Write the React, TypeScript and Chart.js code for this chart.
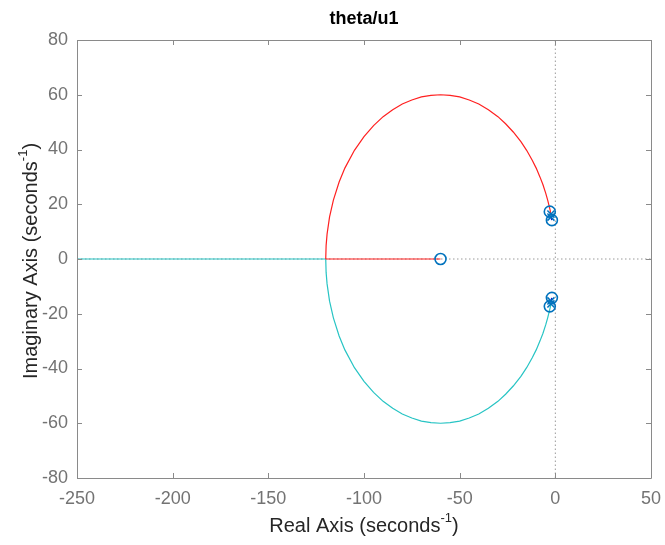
import React, { useEffect, useRef } from "react";
import { Chart, registerables } from "chart.js";

Chart.register(...registerables);

const titleText = "theta/u1";
const xLabelText = "Real Axis (seconds";
const yLabelText = "Imaginary Axis (seconds";
const xTicks = [-250, -200, -150, -100, -50, 0, 50];
const yTicks = [-80, -60, -40, -20, 0, 20, 40, 60, 80];

// upper (red) branch of the locus
const redArcX = [-2.3, -2.6, -3, -4, -5, -6.5, -8, -10, -12, -15, -18, -22, -26, -30, -35, -40, -45, -50, -55, -60, -65, -70, -75, -80, -85, -90, -95, -100, -105, -110, -113, -116, -118, -119.3, -119.8, -120];
const redArcY = [16.4, 17.5, 18.7, 21.5, 24.0, 27.2, 29.9, 33.2, 36.0, 39.7, 42.9, 46.4, 49.4, 52.0, 54.5, 56.6, 58.1, 59.2, 59.8, 60.0, 59.8, 59.2, 58.1, 56.6, 54.5, 52.0, 48.7, 44.7, 39.7, 33.2, 28.1, 21.5, 15.4, 9.1, 4.9, 0];
// real-axis red segment
const redRealX = [-120, -60];
const redRealY = [0, 0];
// lower (cyan) branch
const cyanArcX = [-2.3, -2.6, -3, -4, -5, -6.5, -8, -10, -12, -15, -18, -22, -26, -30, -35, -40, -45, -50, -55, -60, -65, -70, -75, -80, -85, -90, -95, -100, -105, -110, -113, -116, -118, -119.3, -119.8, -120];
const cyanArcY = [-16.4, -17.5, -18.7, -21.5, -24.0, -27.2, -29.9, -33.2, -36.0, -39.7, -42.9, -46.4, -49.4, -52.0, -54.5, -56.6, -58.1, -59.2, -59.8, -60.0, -59.8, -59.2, -58.1, -56.6, -54.5, -52.0, -48.7, -44.7, -39.7, -33.2, -28.1, -21.5, -15.4, -9.1, -4.9, 0];
const cyanRealX = [-120, -250];
const cyanRealY = [0, 0];
// short blue branches between close poles and zeros
const blueUpX = [-2.3, -1.8];
const blueUpY = [15.3, 14.2];
const blueDnX = [-2.3, -1.8];
const blueDnY = [-15.3, -14.2];

const zerosX = [-60, -2.9, -1.8, -2.9, -1.8];
const zerosY = [0, 17.3, 14.2, -17.3, -14.2];
const polesX = [-2.3, -2.3, -2.3, -2.3];
const polesY = [16.4, 15.3, -16.4, -15.3];

const pts = (xs: number[], ys: number[]) => xs.map((x, i) => ({ x, y: ys[i] }));

const CHART_LEFT = 77;
const CHART_RIGHT = 651;
const CHART_TOP = 40;
const CHART_BOTTOM = 478;
const W = 665;
const H = 545;

const framePlugin = {
  id: "frame",
  afterDatasetsDraw(chart: any) {
    const ctx = chart.ctx;
    const { left, right, top, bottom } = chart.chartArea;
    const xs = chart.scales.x;
    const ys = chart.scales.y;
    ctx.save();
    ctx.strokeStyle = "#8a8a8a";
    ctx.lineWidth = 1;
    ctx.beginPath();
    ctx.rect(Math.round(left) + 0.5, Math.round(top) + 0.5, Math.round(right - left), Math.round(bottom - top));
    ctx.stroke();
    const tl = 5;
    ctx.beginPath();
    xTicks.forEach((v) => {
      const px = Math.round(xs.getPixelForValue(v)) + 0.5;
      ctx.moveTo(px, top);
      ctx.lineTo(px, top + tl);
      ctx.moveTo(px, bottom);
      ctx.lineTo(px, bottom - tl);
    });
    yTicks.forEach((v) => {
      const py = Math.round(ys.getPixelForValue(v)) + 0.5;
      ctx.moveTo(left, py);
      ctx.lineTo(left + tl, py);
      ctx.moveTo(right, py);
      ctx.lineTo(right - tl, py);
    });
    ctx.stroke();
    ctx.restore();
  },
  afterDraw(chart: any) {
    const ctx = chart.ctx;
    const { left, right, top, bottom } = chart.chartArea;
    const cx = (left + right) / 2;
    const cy = (top + bottom) / 2;
    ctx.save();
    // title
    ctx.fillStyle = "#000000";
    ctx.font = "bold 18px 'Liberation Sans', Arial, sans-serif";
    ctx.textAlign = "center";
    ctx.textBaseline = "middle";
    ctx.fillText(titleText, cx, 19);

    // x label with superscript
    const mainFont = "20px 'Liberation Sans', Arial, sans-serif";
    const supFont = "13px 'Liberation Sans', Arial, sans-serif";
    ctx.fillStyle = "#262626";
    ctx.textBaseline = "alphabetic";
    ctx.textAlign = "left";
    ctx.font = mainFont;
    const wMain = ctx.measureText(xLabelText).width;
    const wParen = ctx.measureText(")").width;
    ctx.font = supFont;
    const wSup = ctx.measureText("-1").width;
    const total = wMain + wSup + wParen;
    let x0 = cx - total / 2;
    const base = 532;
    ctx.font = mainFont;
    ctx.fillText(xLabelText, x0, base);
    ctx.font = supFont;
    ctx.fillText("-1", x0 + wMain, base - 10);
    ctx.font = mainFont;
    ctx.fillText(")", x0 + wMain + wSup, base);

    // y label rotated
    ctx.translate(37, cy + 2);
    ctx.rotate(-Math.PI / 2);
    ctx.font = mainFont;
    const wyMain = ctx.measureText(yLabelText).width;
    const ytotal = wyMain + wSup + wParen;
    x0 = -ytotal / 2;
    ctx.fillText(yLabelText, x0, 0);
    ctx.font = supFont;
    ctx.fillText("-1", x0 + wyMain, -10);
    ctx.font = mainFont;
    ctx.fillText(")", x0 + wyMain + wSup, 0);
    ctx.restore();
  },
};

export default function App() {
  const ref = useRef<HTMLCanvasElement | null>(null);
  useEffect(() => {
    if (!ref.current) return;
    const line = (data: any, color: string, order: number, width = 1.2, dash: number[] = []) => ({
      type: "line" as const,
      data,
      showLine: true,
      borderColor: color,
      backgroundColor: color,
      borderWidth: width,
      borderDash: dash,
      pointRadius: 0,
      fill: false,
      tension: 0,
      order,
    });
    const chart = new Chart(ref.current, {
      type: "scatter",
      data: {
        datasets: [
          line(pts([0, 0], [-80, 80]), "#9a9a9a", 10, 1, [1.5, 2.5]),
          line(pts([-250, 50], [0, 0]), "#9a9a9a", 10, 1, [1.5, 2.5]),
          line(pts(cyanRealX, cyanRealY), "#27c4c4", 5),
          line(pts(cyanArcX, cyanArcY), "#27c4c4", 5),
          line(pts(redRealX, redRealY), "#ff2020", 4),
          line(pts(redArcX, redArcY), "#ff2020", 4),
          line(pts(blueUpX, blueUpY), "#1010d0", 3, 1.5),
          line(pts(blueDnX, blueDnY), "#1010d0", 3, 1.5),
          {
            type: "scatter" as const,
            data: pts(zerosX, zerosY),
            pointStyle: "circle",
            pointRadius: 5.5,
            pointBorderWidth: 1.6,
            pointBorderColor: "#0072BD",
            pointBackgroundColor: "rgba(0,0,0,0)",
            showLine: false,
            order: 1,
          },
          {
            type: "scatter" as const,
            data: pts(polesX, polesY),
            pointStyle: "crossRot",
            pointRadius: 5,
            pointBorderWidth: 1.5,
            pointBorderColor: "#0072BD",
            pointBackgroundColor: "#0072BD",
            showLine: false,
            order: 0,
          },
        ] as any,
      },
      options: {
        animation: false,
        responsive: false,
        maintainAspectRatio: false,
        events: [],
        layout: { padding: { left: 0, right: W - CHART_RIGHT, top: CHART_TOP, bottom: 0 } },
        plugins: { legend: { display: false }, tooltip: { enabled: false }, title: { display: false } },
        scales: {
          x: {
            type: "linear",
            min: -250,
            max: 50,
            afterBuildTicks: (s: any) => {
              s.ticks = xTicks.map((v) => ({ value: v }));
            },
            afterFit: (s: any) => {
              s.height = H - CHART_BOTTOM;
              s.paddingLeft = 0;
              s.paddingRight = 0;
            },
            grid: { display: false, drawTicks: false },
            border: { display: false },
            ticks: {
              color: "#737373",
              font: { family: "'Liberation Sans', Arial, sans-serif", size: 18 },
              padding: 10,
              maxRotation: 0,
              autoSkip: false,
            },
          },
          y: {
            type: "linear",
            min: -80,
            max: 80,
            afterBuildTicks: (s: any) => {
              s.ticks = yTicks.map((v) => ({ value: v }));
            },
            afterFit: (s: any) => {
              s.width = CHART_LEFT;
              s.paddingTop = 0;
              s.paddingBottom = 0;
            },
            grid: { display: false, drawTicks: false },
            border: { display: false },
            ticks: {
              color: "#737373",
              font: { family: "'Liberation Sans', Arial, sans-serif", size: 18 },
              padding: 9,
              autoSkip: false,
            },
          },
        },
      },
      plugins: [framePlugin],
    });
    return () => chart.destroy();
  }, []);
  return (
    <div style={{ position: "fixed", left: 0, top: 0, width: W, height: H, background: "#ffffff" }}>
      <canvas ref={ref} width={W} height={H} style={{ width: W, height: H, display: "block" }} />
    </div>
  );
}
